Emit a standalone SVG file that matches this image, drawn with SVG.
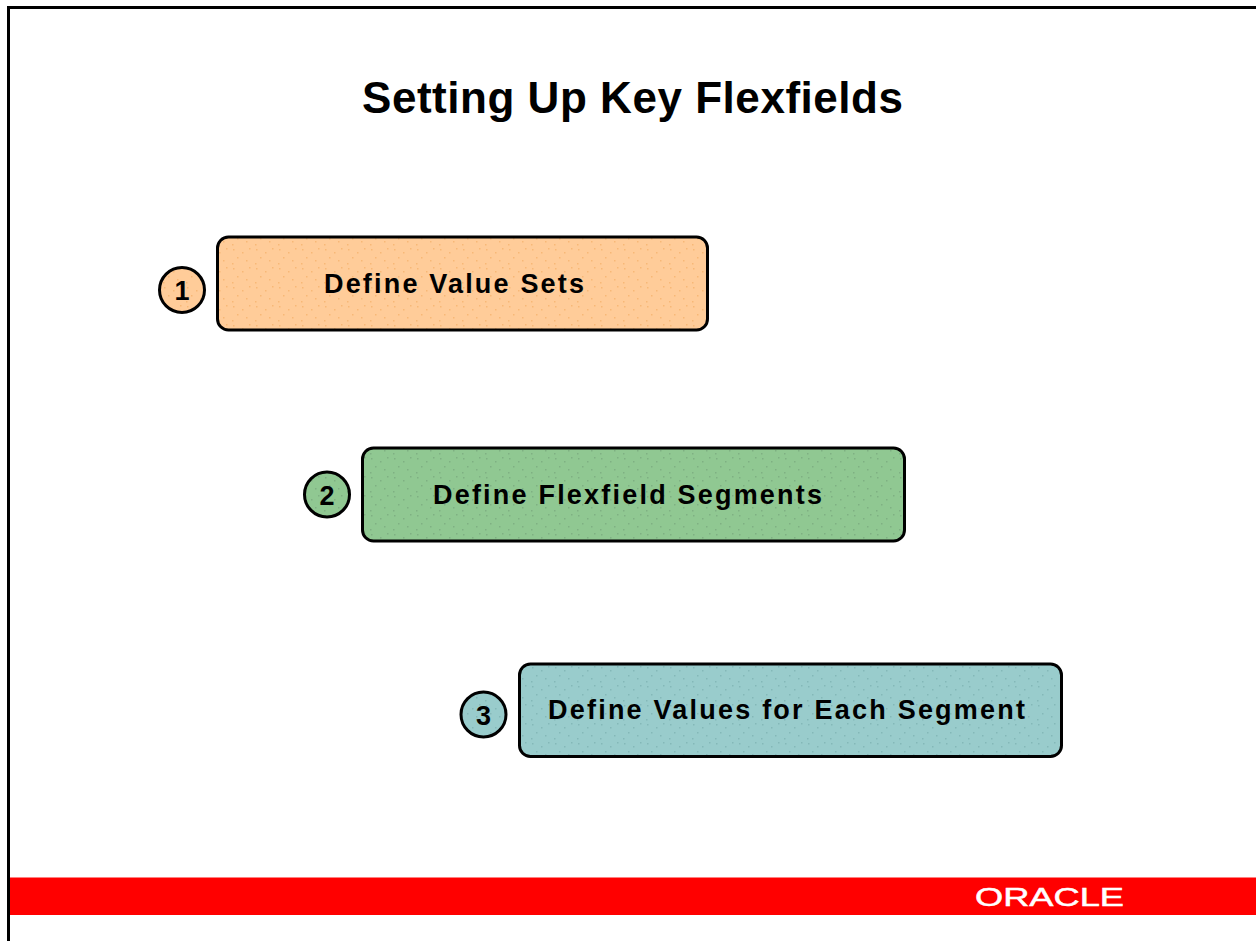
<svg xmlns="http://www.w3.org/2000/svg" width="1256" height="941" viewBox="0 0 1256 941">
<style>
.b{stroke:#000;stroke-width:3;stroke-linejoin:round}
.c{stroke:#000;stroke-width:3}
text{font-family:"Liberation Sans",Arial,sans-serif;font-weight:700;fill:#000}
.l{font-size:27px}
.n{font-size:27px;text-anchor:middle}
</style>
<defs>
<pattern id="p1" width="23" height="19" patternUnits="userSpaceOnUse"><rect width="23" height="19" fill="#ffcc99"/><g fill="#f7b877"><rect x="3" y="2" width="1.5" height="1.5"/><rect x="12" y="5" width="1.5" height="1.5"/><rect x="19" y="1" width="1.5" height="1.5"/><rect x="7" y="10" width="1.5" height="1.5"/><rect x="16" y="13" width="1.5" height="1.5"/><rect x="2" y="16" width="1.5" height="1.5"/></g></pattern>
<pattern id="p2" width="23" height="19" patternUnits="userSpaceOnUse"><rect width="23" height="19" fill="#90c892"/><g fill="#7fb083"><rect x="3" y="2" width="1.5" height="1.5"/><rect x="12" y="5" width="1.5" height="1.5"/><rect x="19" y="1" width="1.5" height="1.5"/><rect x="7" y="10" width="1.5" height="1.5"/><rect x="16" y="13" width="1.5" height="1.5"/><rect x="2" y="16" width="1.5" height="1.5"/></g></pattern>
<pattern id="p3" width="23" height="19" patternUnits="userSpaceOnUse"><rect width="23" height="19" fill="#99cccc"/><g fill="#84b8b8"><rect x="3" y="2" width="1.5" height="1.5"/><rect x="12" y="5" width="1.5" height="1.5"/><rect x="19" y="1" width="1.5" height="1.5"/><rect x="7" y="10" width="1.5" height="1.5"/><rect x="16" y="13" width="1.5" height="1.5"/><rect x="2" y="16" width="1.5" height="1.5"/></g></pattern>
</defs>
<rect width="1256" height="941" fill="#fff"/>
<g id="frame"><path d="M8.500 941V7.500H1256" fill="none" stroke="#000" stroke-width="3"/></g>
<text id="title" x="362" y="113" font-size="44" textLength="541" lengthAdjust="spacing">Setting Up Key Flexfields</text>
<g id="connectors"/>
<g id="step1">
<circle class="c" cx="182" cy="290" r="22.500" fill="url(#p1)"/><text class="n" x="182" y="300">1</text>
<rect class="b" fill="url(#p1)" x="217.500" y="237" width="490" height="93" rx="11"/>
<text class="l" x="324" y="293" textLength="260" lengthAdjust="spacing">Define Value Sets</text>
</g>
<g id="step2">
<circle class="c" cx="327" cy="494.500" r="22.500" fill="url(#p2)"/><text class="n" x="327" y="505">2</text>
<rect class="b" fill="url(#p2)" x="362.500" y="448" width="542" height="93" rx="11"/>
<text class="l" x="433" y="504" textLength="389" lengthAdjust="spacing">Define Flexfield Segments</text>
</g>
<g id="step3">
<circle class="c" cx="483.500" cy="714.500" r="22.500" fill="url(#p3)"/><text class="n" x="483.500" y="725">3</text>
<rect class="b" fill="url(#p3)" x="519.500" y="664" width="542" height="92.500" rx="11"/>
<text class="l" x="548" y="719" textLength="477" lengthAdjust="spacing">Define Values for Each Segment</text>
</g>
<g id="footer">
<rect x="10" y="877.500" width="1246" height="37.500" fill="#ff0000"/>
<text x="975" y="906" font-size="25" textLength="149" lengthAdjust="spacingAndGlyphs" style="fill:#fff;font-weight:400;stroke:#fff;stroke-width:.5">ORACLE</text>
</g>
</svg>
